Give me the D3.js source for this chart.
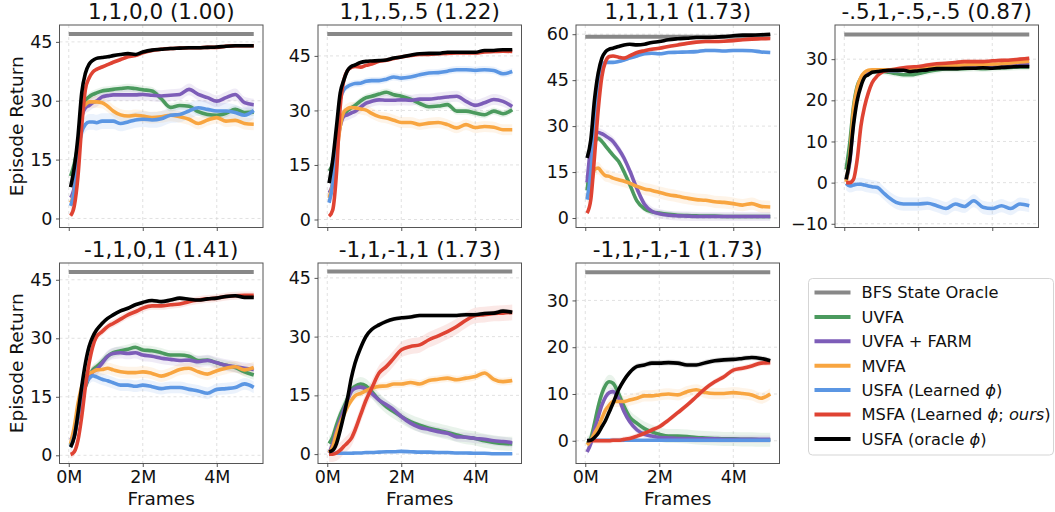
<!DOCTYPE html>
<html>
<head>
<meta charset="utf-8">
<script src="https://cdn.jsdelivr.net/npm/d3@7"></script>
<style>
  html, body { margin: 0; padding: 0; background: #fff; }
  svg { display: block; font-family: "DejaVu Sans", sans-serif; }
</style>
</head>
<body>
<svg id="chart" width="1055" height="512"></svg>
<script>
// Training frames (millions) at which returns are recorded
const frames = [0.05,0.15,0.25,0.35,0.45,0.55,0.65,0.75,0.9,1.05,1.2,1.4,1.6,1.8,2.0,2.25,2.5,2.75,3.0,3.25,3.5,3.75,4.0,4.25,4.5,4.75,5.0];

// Task weight vectors (with their norm) used as panel titles
const titles = ["1,1,0,0 (1.00)", "1,1,.5,.5 (1.22)", "1,1,1,1 (1.73)", "-.5,1,-.5,-.5 (0.87)",
                "-1,1,0,1 (1.41)", "-1,1,-1,1 (1.73)", "-1,1,-1,-1 (1.73)"];

// BFS state oracle return per task
const oracle = [47, 51, 59.2, 36, 47, 46.6, 36];

const yTicks = [[0,15,30,45],[0,15,30,45],[0,15,30,45,60],[-10,0,10,20,30],[0,15,30,45],[0,15,30,45],[0,10,20,30]];
const yLimits = [[-2.3,49.3],[-2.2,53.5],[-3.1,63.0],[-10.9,38.3],[-2.1,49.3],[-2.4,48.8],[-4.86,38.0]];
const xTicks = [0, 2, 4];

// Mean episode return per method, one row per task
const uvfa = [
  [10.8,14,19,27.5,30,31,31.6,32,32.5,32.7,32.9,33.1,33.3,33.1,32.8,32.5,30.5,28.3,28.8,28.6,27.2,26.5,26.3,26.8,27.8,27,27.1],
  [13.3,15.6,22,26.5,28.9,30,30.7,31.4,32.6,33.5,33.9,34.5,35,34.3,33.9,33.1,31.9,31,31.2,31.6,29.8,29.8,29.3,28.8,29.8,29.1,30.2],
  [9,19,24.5,26,25,23.5,22,20.5,18.5,15,11,5.5,3,2,1.6,1.2,0.9,0.8,0.7,0.6,0.6,0.5,0.5,0.5,0.5,0.5,0.5],
  [3.2,9.7,18.5,23.4,25.4,26.5,26.8,27,27,27,26.8,26.5,26.2,26.2,26.5,27,27.4,27.6,27.6,27.7,27.8,27.7,27.8,27.9,28,28.1,28.1],
  [2.6,5,10,15,17.6,20.1,21.9,22.7,24,25.4,26.3,26.8,27.2,27.7,27,26.8,26.3,25.7,25.7,25.4,24.3,24.4,23.7,23.1,22.5,21.4,20.6],
  [2.7,4.4,7.4,10,12.1,14.3,16.4,17.3,17.9,17.4,16,13.8,12.1,10.8,9.6,8.3,7.4,6.6,6.1,5.5,4.9,4.3,4,3.4,3,2.7,2.6],
  [-0.6,0.5,3.7,7.3,10.1,11.9,12.6,12.3,10.1,7.3,5.1,3.7,2.6,1.9,1.4,1,1,0.9,0.7,0.6,0.5,0.4,0.4,0.3,0.3,0.2,0.2]
];
const uvfaFarm = [
  [5.3,8,17,26,28.2,28.8,29.5,29.9,31,31.3,31.5,31.5,31.5,31.5,31.6,31.4,31.2,31.4,31.6,32.9,31.6,30.8,29.9,30.8,31.6,29.5,29],
  [7.3,10,19.2,25.6,28.4,28.8,29.3,29.7,30.9,32,32.5,32.9,32.8,32.8,32.9,32.8,33.1,33.1,33.4,33.7,33.9,32.5,31.4,32.1,33,32.5,31.1],
  [11.6,23.4,27.7,27.9,27.5,26.8,26,25,22.5,19.5,15.5,9.5,4.5,2.2,1.4,0.9,0.7,0.6,0.5,0.5,0.5,0.5,0.5,0.5,0.5,0.5,0.5],
  [0.5,5,15,22,25,26.4,27,27.2,27.2,27.2,27.2,27.2,27.3,27.4,27.4,27.7,27.9,28,28.1,28.2,28.3,28.4,28.4,28.5,28.6,28.7,28.8],
  [3.9,5.5,10,15,18,20.1,21.4,22,23.6,25.4,26.1,26.3,26.1,26.3,25.7,25.4,24.9,24.6,24.3,24.4,24,24.3,23.7,23.1,22.7,22.3,22],
  [0.3,2.7,6.1,8.7,11.3,13.8,16,16.8,17.1,16.6,15.5,13.8,12.6,11.3,9.6,7.9,6.8,6.3,5.7,5.3,4.4,4.3,4,3.8,3.4,3.2,2.9],
  [-2.4,-0.6,2.3,5.1,7.6,9.4,10.3,10.5,9.1,6.2,4.1,2.3,1.4,1,0.7,0.6,0.5,0.5,0.4,0.4,0.4,0.3,0.3,0.3,0.3,0.3,0.3]
];
const mvfa = [
  [4,7,16,27.8,29,29.7,29.7,29.7,29.5,28.6,27.4,26.4,26.1,26.3,26.1,25.7,25.9,26.3,25.9,25.3,24.2,25.1,25.7,24.8,25,24.2,24],
  [5.9,10,17.4,25.6,29.6,30.5,30.8,30.7,30.4,30.1,29.2,28.3,27.9,27.3,26.7,26.7,26.1,26.5,26.7,26.1,25.2,26.1,25.3,25.6,25.4,24.7,24.7],
  [6.5,10.3,15.8,16.3,14.9,13.8,13.6,13,12.5,12,11.4,10.3,9.5,9,8.4,7.6,7.1,6.5,6,5.8,5.3,5.1,4.7,4.2,4.7,3.8,3.6],
  [0.2,6.5,17.7,23,25.6,26.8,27.3,27.4,27.4,27.4,27.4,27.5,27.5,27.6,27.6,27.9,28.1,28.3,28.5,28.6,28.7,28.7,28.8,28.9,29.1,29.3,29.5],
  [3,7.3,13.3,17.6,20.1,21,21.4,21.9,22,22.3,21.9,21.4,21.2,21.2,21.4,21,20.3,21,22,22.3,21.4,20.8,21.7,22.3,22.7,21.9,22.5],
  [0.3,1.9,5.3,7.9,10,12.1,13.7,14.9,15.5,16.2,16.8,17.3,17.4,17.9,17.9,18.3,17.9,18.8,19.1,19.4,19,19.4,19.8,20.7,19.1,18.5,18.8],
  [-0.9,0.1,1.6,3,4.8,6.6,7.6,8.4,8.4,8.4,8.7,9.1,9.6,9.6,9.8,10,9.8,10.5,10.9,10.3,10.1,10.1,10.3,10.1,9.8,9.1,10]
];
const usfaLearned = [
  [3.2,7,17,22,24,24.6,24.6,24.4,24.8,24.8,24.8,24.2,24.6,25.1,25.3,25.1,25.4,26.3,26.5,27.4,28.2,27.8,27.4,27.4,27,26.3,27.5],
  [4.6,10,22,33,35.7,36.6,37.1,37.4,37.5,38,38.2,38.2,38.6,39.2,38.9,39.2,39.8,40.3,40.4,40.8,41.2,41.2,41,41.2,41,40.1,40.7],
  [6,14.7,29.9,42.9,49.5,50.8,50.8,50.8,51.1,51.6,52.2,52.9,53.6,53.8,53.6,54,54.1,54.2,54.3,54.7,54.7,54.5,54.7,54.7,54.6,54.2,54],
  [-0.2,-0.8,-0.6,-0.4,-0.4,-0.6,-0.8,-1,-1.2,-2.4,-3.6,-4.8,-5.2,-5.2,-5.2,-5,-5.6,-6.3,-5.2,-5.8,-4.4,-6,-6.3,-5.6,-6.3,-5.2,-5.6],
  [2.1,5,10,15,18.4,19.7,20.4,20.1,19.5,19.1,18.6,18,18,17.7,18,17.6,17.1,17.4,17.4,16.9,16.5,15.9,16.9,17.1,17.4,18.3,17.4],
  [0.3,0.2,0.2,0.2,0.2,0.2,0.2,0.3,0.3,0.4,0.4,0.5,0.6,0.6,0.7,0.6,0.5,0.5,0.4,0.4,0.3,0.3,0.2,0.2,0.1,0.1,0.1],
  [0,0.1,0.1,0.1,0.1,0.1,0.1,0.1,0.1,0.1,0.1,0.1,0.1,0.1,0.1,0.1,0.1,0.1,0.1,0.1,0.1,0.1,0.1,0.1,0.1,0.1,0.1]
];
const msfa = [
  [0.7,3.2,10.8,23.5,32.9,35.8,37.3,38,38.6,39.2,39.8,40.5,41.2,41.5,42.2,42.8,43.1,43.3,43.4,43.5,43.5,43.6,43.6,43.9,44,44,44],
  [0.9,2.7,12.8,31,38.4,41,41.8,42.1,41.9,42.4,42.8,43.5,43.8,44.3,44.7,45.1,45.4,45.4,45.6,45.7,45.8,45.8,45.8,46.1,46.2,46.3,46.2],
  [1.6,6,20,35.3,46.2,51.1,52.7,52.9,52.5,52.2,52.9,54,54.6,55.1,55.4,56,56.5,57,57.4,57.6,57.6,57.7,57.9,58.2,58.4,58.5,58.6],
  [0,0,0.8,5.6,13.7,18.5,21.8,24.2,26,27,27.3,27.6,27.9,28.1,28.2,28.6,28.9,29,29.2,29.4,29.4,29.4,29.6,29.7,29.8,30,30.2],
  [0.2,0.9,3.9,9.9,17.6,23.6,27.9,30.4,31.7,33,33.8,34.9,36,36.8,37.7,38.3,38.3,38.6,38.8,39.4,39.8,40.1,40.3,40.7,40.9,41,41],
  [0,0,0.3,1,2,2.9,4,6.1,10,13.8,16.8,20.7,22.4,24.5,26.6,27.5,27.9,29.2,30.2,31.3,32.6,34.2,35.4,35.6,35.9,36,36.2],
  [0,0,0,0,0,0,0,0.1,0.1,0.3,0.5,1,1.6,2.3,3,4.4,6,7.6,9.4,11.2,12.6,13.7,15.1,15.5,16,16.6,16.7]
];
const usfaOracle = [
  [8,13,21,32,37,39.3,40.3,40.8,41,41.2,41.5,41.8,42,41.8,42.4,42.9,43.1,43.3,43.4,43.5,43.5,43.6,43.7,43.9,44,44,44],
  [10,16.5,25.6,34.8,38.4,41,42.1,42.5,43.2,43.5,43.6,43.7,43.9,44.4,44.7,45.2,45.6,45.7,45.7,46,46,46,46,46.5,46.5,46.7,46.7],
  [19.6,25.5,38.6,47.3,52.2,54.3,55.1,55.4,56,56.5,56.7,56.5,56.7,57.3,57.6,58.2,58.5,58.7,58.9,58.9,59,59.2,59.5,59.7,59.7,59.8,60],
  [0.8,5.6,14,20,23.4,25.6,26.2,26.8,27,27.2,27.3,27.3,27.3,27,27.2,27.4,27.7,27.7,27.7,27.8,27.8,27.9,27.8,28,28.1,28.2,28.2],
  [2.1,4.7,10.7,17.6,23.6,27.9,30.4,32.1,33.8,35.1,36,37,37.7,38.6,39.2,39.7,39.4,39.8,40.3,40,39.8,40.1,40.3,40.7,40.9,40.5,40.5],
  [0.6,1,2.7,6.1,10,14.3,19.4,23.2,27.1,30.1,31.8,33,33.9,34.5,34.8,35,35.4,35.4,35.4,35.4,35.4,35.6,35.6,35.9,36,36.5,36.2],
  [0,0.1,0.7,1.6,3,4.4,6.2,8,10.9,13,14.6,15.9,16.2,16.6,16.6,16.7,16.6,16.2,16.2,16.7,17.1,17.3,17.4,17.6,17.8,17.6,17.1]
];

// Half-width of the shaded spread per task
const uvfaSpread        = [1.0, 1.0, 1.0, 0.8, 1.2, 1.8, 1.5];
const uvfaFarmSpread    = [1.5, 1.5, 1.5, 0.5, 1.5, 1.2, 0.8];
const mvfaSpread        = [1.5, 1.5, 2.0, 0.5, 1.5, 1.0, 1.2];
const usfaLearnedSpread = [2.0, 1.0, 0.6, 1.6, 1.5, 0.3, 0.2];
const msfaSpread        = [0.5, 0.5, 0.6, 0.5, 1.0, 2.0, 0.6];
const usfaOracleSpread  = [0.3, 0.3, 0.4, 0.4, 0.5, 0.6, 0.6];

const methods = [
  { name: "UVFA",        values: uvfa,        spread: uvfaSpread,        color: "#4b9a5e" },
  { name: "UVFA + FARM", values: uvfaFarm,    spread: uvfaFarmSpread,    color: "#7d5db8" },
  { name: "MVFA",        values: mvfa,        spread: mvfaSpread,        color: "#f8a540" },
  { name: "USFA (Learned ϕ)", values: usfaLearned, spread: usfaLearnedSpread, color: "#5b96e3" },
  { name: "MSFA (Learned ϕ; ours)", values: msfa, spread: msfaSpread,    color: "#df4333" },
  { name: "USFA (oracle ϕ)", values: usfaOracle, spread: usfaOracleSpread, color: "#000000" }
];
const oracleColor = "#888888";

const svg = d3.select("#chart");

const colLeft = [59.5, 318, 576, 835];
const panelW = 203.5;
const rowTop = [25, 263];
const rowH = [202.5, 200.5];

const x = d3.scaleLinear().domain([-0.25, 5.25]).range([0, panelW]);
const fmtTick = d => d < 0 ? "\u2212" + Math.abs(d) : String(d);

titles.forEach((title, i) => {
  const row = Math.floor(i / 4), col = i % 4;
  const h = rowH[row];
  const g = svg.append("g").attr("transform", `translate(${colLeft[col]},${rowTop[row]})`);
  const y = d3.scaleLinear().domain(yLimits[i]).range([h, 0]);

  // dashed grid
  g.append("g").selectAll("line").data(yTicks[i]).join("line")
    .attr("x1", 0).attr("x2", panelW)
    .attr("y1", d => y(d)).attr("y2", d => y(d))
    .attr("stroke", "#d9d9d9").attr("stroke-width", 0.8).attr("stroke-dasharray", "3,3");
  g.append("g").selectAll("line").data(xTicks).join("line")
    .attr("y1", 0).attr("y2", h)
    .attr("x1", d => x(d)).attr("x2", d => x(d))
    .attr("stroke", "#d9d9d9").attr("stroke-width", 0.8).attr("stroke-dasharray", "3,3");

  // oracle reference
  g.append("path")
    .datum([0, 5])
    .attr("d", d3.line().x(d => x(d)).y(() => y(oracle[i])))
    .attr("fill", "none").attr("stroke", oracleColor).attr("stroke-width", 4);

  const area = d3.area().curve(d3.curveMonotoneX).x(d => x(d.f))
    .y0(d => y(d.v - d.s)).y1(d => y(d.v + d.s));
  const line = d3.line().curve(d3.curveMonotoneX).x(d => x(d.f)).y(d => y(d.v));

  methods.forEach(m => {
    const pts = frames.map((f, k) => ({ f, v: m.values[i][k], s: m.spread[i] }));
    g.append("path").datum(pts).attr("d", area)
      .attr("fill", m.color).attr("fill-opacity", 0.12).attr("stroke", "none");
  });
  methods.forEach(m => {
    const pts = frames.map((f, k) => ({ f, v: m.values[i][k] }));
    g.append("path").datum(pts).attr("d", line)
      .attr("fill", "none").attr("stroke", m.color).attr("stroke-width", 3.6)
      .attr("stroke-linejoin", "round").attr("stroke-linecap", "butt");
  });

  // frame
  g.append("rect").attr("x", 0).attr("y", 0).attr("width", panelW).attr("height", h)
    .attr("fill", "none").attr("stroke", "#555").attr("stroke-width", 1);

  // axes
  const ya = g.append("g").call(d3.axisLeft(y).tickValues(yTicks[i]).tickSize(3.5).tickPadding(3.5).tickFormat(fmtTick));
  const xa = g.append("g").attr("transform", `translate(0,${h})`)
    .call(d3.axisBottom(x).tickValues(xTicks).tickSize(3.5).tickPadding(3.5)
      .tickFormat(row === 1 ? (d => d + "M") : () => ""));
  [ya, xa].forEach(a => {
    a.select(".domain").remove();
    a.selectAll(".tick line").attr("stroke", "#444").attr("stroke-width", 0.9);
    a.selectAll(".tick text").attr("fill", "#111").style("font-size", "17.5px")
      .style("font-family", "'DejaVu Sans', sans-serif");
  });

  // title
  g.append("text").attr("x", panelW / 2).attr("y", -6).attr("text-anchor", "middle")
    .style("font-size", "21.5px").attr("fill", "#111").text(title);

  if (col === 0) {
    g.append("text")
      .attr("transform", `translate(${16.5 - colLeft[0]},${h / 2}) rotate(-90)`)
      .attr("text-anchor", "middle").attr("dominant-baseline", "central")
      .style("font-size", "18.5px").attr("fill", "#111").text("Episode Return");
  }
  if (row === 1) {
    g.append("text").attr("x", panelW / 2).attr("y", h + 41.5).attr("text-anchor", "middle")
      .style("font-size", "18.5px").attr("fill", "#111").text("Frames");
  }
});

// legend
const legendItems = [{ name: "BFS State Oracle", color: oracleColor }].concat(methods);
const lg = svg.append("g").attr("transform", "translate(808.5,278.5)");
lg.append("rect").attr("width", 245).attr("height", 176.5).attr("rx", 4)
  .attr("fill", "#fff").attr("stroke", "#d5d5d5").attr("stroke-width", 1);

const rowY = k => 14 + k * 24.4;
legendItems.forEach((item, k) => {
  lg.append("line").attr("x1", 6).attr("x2", 42).attr("y1", rowY(k)).attr("y2", rowY(k))
    .attr("stroke", item.color).attr("stroke-width", 4);
  const t = lg.append("text").attr("x", 53).attr("y", rowY(k)).attr("dy", "0.36em")
    .style("font-size", "16.3px").attr("fill", "#111");
  // italicise phi and "ours"
  const parts = item.name.split(/(ϕ|ours)/);
  parts.forEach(p => {
    if (!p) return;
    const ts = t.append("tspan").text(p);
    if (p === "ϕ" || p === "ours") ts.style("font-style", "italic");
  });
});
</script>
</body>
</html>
